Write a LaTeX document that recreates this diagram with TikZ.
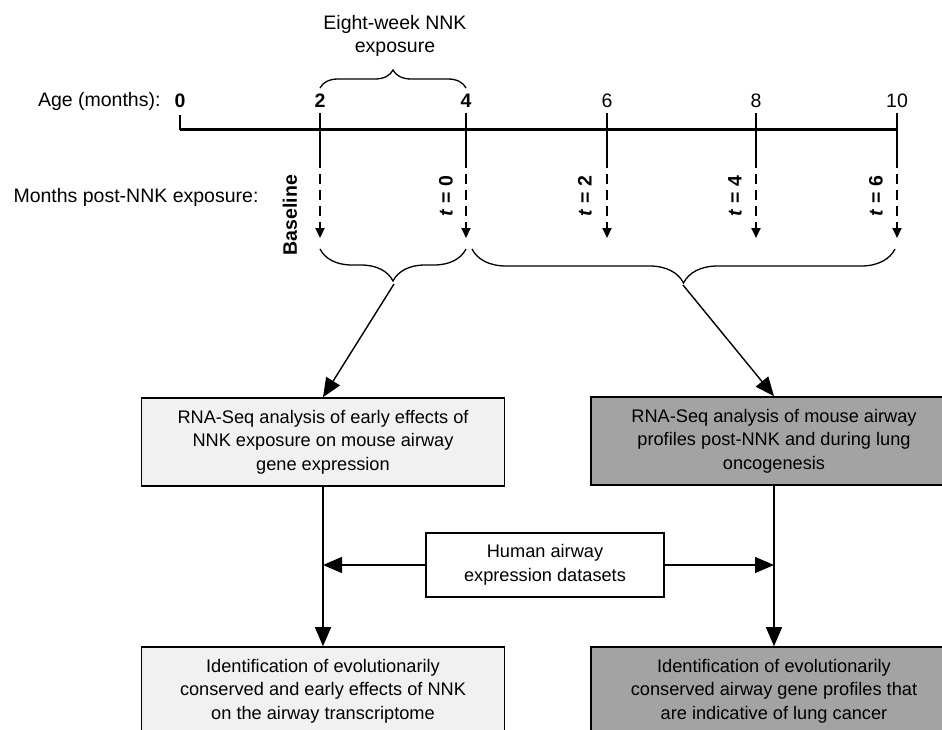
\documentclass[tikz,border=0pt]{standalone}
\usepackage{fontspec}
\setmainfont{Liberation Sans}
\usetikzlibrary{arrows.meta,decorations.pathreplacing,positioning}
\definecolor{lightbox}{RGB}{241,241,241}
\definecolor{darkbox}{RGB}{163,163,163}

\begin{document}
\begin{tikzpicture}[x=1pt,y=-1pt,
    font=\fontsize{19.5}{23.5}\selectfont,
    stepbox/.style={draw, line width=1.6pt, align=center, minimum width=363pt, minimum height=88pt, inner sep=0pt,
        font=\fontsize{18.2}{23.5}\selectfont},
    tickline/.style={line width=2.5pt},
    drop/.style={line width=2pt, dash pattern=on 10pt off 6pt, -{Triangle[length=10pt,width=9pt]}},
    bigarrow/.style={line width=1.4pt, -{Triangle[length=19pt,width=16pt]}},
    curly/.style={decorate, decoration={brace, amplitude=#1}, line width=1.3pt},
    rotlabel/.style={rotate=90, font=\fontsize{19.5}{23.5}\selectfont\bfseries}]
    \useasboundingbox (0,0) rectangle (942,730);

    % age axis
    \draw[line width=3pt] (180,130) -- (897,130);
    \node[anchor=east] (age) at (164,101) {Age (months):};
    \node (m0) at (180,101) {\textbf{0}};
    \node (m2) at (320,101) {\textbf{2}};
    \node (m4) at (466,101) {\textbf{4}};
    \node (m6) at (607,101) {6};
    \node (m8) at (756,101) {8};
    \node (m10) at (897,101) {10};
    \draw[tickline] (180,115) -- (180,130);
    \foreach \x in {320,466,607,756,897} {
        \draw[tickline] (\x,113) -- (\x,168);
        \draw[drop] (\x,174) -- (\x,238);
    }

    % exposure window
    \draw[curly=18pt] (320,88) -- (466,88);
    \node[align=center] (eight) at (395,36) {Eight-week NNK\\exposure};

    % sampling points
    \node[anchor=east] (post) at (262,197) {Months post-NNK exposure:};
    \node[rotlabel] (base) at (290,215) {Baseline};
    \node[rotlabel] (t0) at (446,196) {\textit{t} = 0};
    \node[rotlabel] (t2) at (585,196) {\textit{t} = 2};
    \node[rotlabel] (t4) at (735,196) {\textit{t} = 4};
    \node[rotlabel] (t6) at (876,196) {\textit{t} = 6};

    \draw[curly=32pt] (466,249) -- (320,249);
    \draw[curly=34pt] (895,249) -- (472,249);
    \coordinate (leftTip) at (394,284);
    \coordinate (rightTip) at (683,285);

    % analysis boxes
    \node[stepbox, fill=lightbox] (early) at (323,442)
        {RNA-Seq analysis of early effects of\\NNK exposure on mouse airway\\gene expression};
    \node[stepbox, fill=darkbox, minimum width=366pt] (onco) at (774,441)
        {RNA-Seq analysis of mouse airway\\profiles post-NNK and during lung\\oncogenesis};
    \node[stepbox, fill=lightbox] (consEarly) at (323,691)
        {Identification of evolutionarily\\conserved and early effects of NNK\\on the airway transcriptome};
    \node[stepbox, fill=darkbox, minimum width=366pt] (consCancer) at (774,691)
        {Identification of evolutionarily\\conserved airway gene profiles that\\are indicative of lung cancer};
    \node[draw, line width=1.6pt, fill=white, align=center, minimum width=238pt, minimum height=64pt, inner sep=0pt,
        font=\fontsize{18.2}{23.5}\selectfont] (human) at (545,565)
        {Human airway\\expression datasets};

    \draw[bigarrow] (leftTip) -- (early.north);
    \draw[bigarrow] (rightTip) -- (onco.north);
    \draw[bigarrow] (early) -- (consEarly);
    \draw[bigarrow] (onco) -- (consCancer);
    \draw[bigarrow] (human.west) -- (human.west -| early);
    \draw[bigarrow] (human.east) -- (human.east -| onco);
\end{tikzpicture}
\end{document}
